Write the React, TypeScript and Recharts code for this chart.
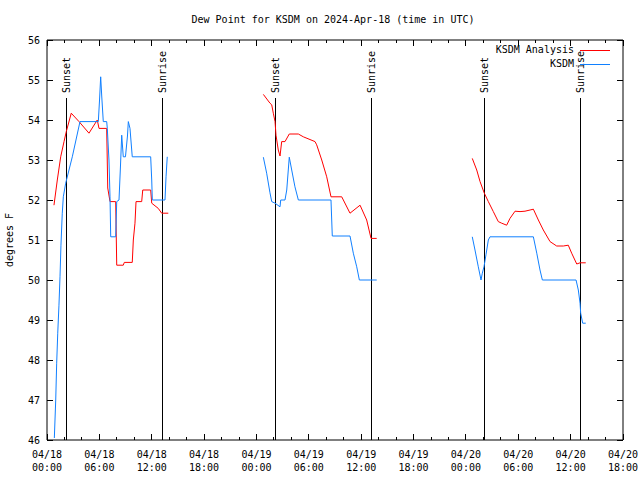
import React from "react";
import { LineChart, Line, XAxis, YAxis, ReferenceLine, Legend } from "recharts";

const FONT = "'DejaVu Sans Mono', 'Liberation Mono', monospace";

// hours since 2024-04-18 00:00 UTC, dew point (F)
const analysisDay1: [number, number][] = [
  [0.8, 51.87], [1.18, 52.5], [1.57, 53.08], [1.95, 53.46], [2.21, 53.71], [2.78, 54.17],
  [3.67, 53.96], [4.81, 53.67], [5.76, 54.0], [5.96, 53.79], [6.84, 53.79], [6.96, 52.3],
  [7.22, 51.96], [7.87, 51.96], [7.99, 50.37], [8.74, 50.37], [8.86, 50.44], [9.77, 50.44],
  [9.89, 51.0], [10.08, 51.42], [10.2, 51.96], [10.85, 51.96], [10.97, 52.25], [11.88, 52.25],
  [12.0, 51.92], [12.75, 51.79], [13.14, 51.67], [13.9, 51.67],
];
const analysisDay2: [number, number][] = [
  [24.79, 54.64], [25.55, 54.42], [25.75, 54.38], [25.93, 54.17], [26.13, 53.96], [26.24, 53.62],
  [26.5, 53.25], [26.7, 53.1], [26.89, 53.46], [27.27, 53.46], [27.76, 53.65], [28.8, 53.65],
  [29.37, 53.58], [30.71, 53.46], [30.9, 53.38], [31.48, 53.0], [32.05, 52.58], [32.54, 52.08],
  [33.77, 52.08], [34.72, 51.67], [35.87, 51.87], [36.63, 51.5], [37.13, 51.04], [37.78, 51.04],
];
const analysisDay3: [number, number][] = [
  [48.73, 53.04], [49.24, 52.75], [49.62, 52.46], [50.11, 52.17], [50.57, 51.96], [51.14, 51.71],
  [51.71, 51.46], [52.1, 51.42], [52.67, 51.37], [53.05, 51.54], [53.63, 51.72], [54.2, 51.71],
  [54.77, 51.72], [55.35, 51.75], [55.73, 51.77], [56.3, 51.5], [56.87, 51.25], [57.64, 50.96],
  [58.4, 50.85], [59.16, 50.85], [59.73, 50.87], [60.12, 50.67], [60.7, 50.4], [61.08, 50.43],
  [61.73, 50.43],
];

const obsDay1: [number, number][] = [
  [0.84, 46.05], [1.0, 47.0], [1.11, 47.92], [1.23, 48.67], [1.37, 49.37], [1.49, 50.08],
  [1.6, 50.87], [1.75, 51.67], [1.87, 52.08], [2.14, 52.42], [2.9, 53.08], [3.78, 53.96],
  [5.88, 53.96], [6.02, 54.5], [6.15, 55.08], [6.27, 54.6], [6.45, 53.96], [6.84, 53.96],
  [6.91, 53.79], [7.1, 53.0], [7.22, 52.08], [7.3, 51.08], [7.87, 51.08], [7.99, 51.96],
  [8.25, 52.0], [8.42, 52.85], [8.56, 53.62], [8.74, 53.08], [8.99, 53.08], [9.22, 53.6],
  [9.32, 53.96], [9.51, 53.79], [9.77, 53.08], [11.88, 53.08], [12.0, 52.5], [12.07, 52.0],
  [13.52, 52.0], [13.64, 52.58], [13.78, 53.08],
];
const obsDay2: [number, number][] = [
  [24.79, 53.07], [25.17, 52.67], [25.55, 52.18], [25.75, 51.96], [26.13, 51.92], [26.7, 51.83],
  [26.78, 52.0], [27.27, 52.0], [27.47, 52.25], [27.76, 53.07], [28.04, 52.75], [28.41, 52.33],
  [28.8, 52.0], [32.54, 52.0], [32.69, 51.1], [34.72, 51.1], [35.1, 50.67], [35.49, 50.33],
  [35.79, 50.0], [37.78, 50.0],
];
const obsDay3: [number, number][] = [
  [48.73, 51.08], [49.04, 50.75], [49.42, 50.33], [49.73, 50.0], [49.88, 50.17], [50.07, 50.33],
  [50.3, 50.63], [50.57, 51.0], [50.76, 51.08], [55.73, 51.08], [56.12, 50.67], [56.49, 50.25],
  [56.76, 50.0], [60.62, 50.0], [60.88, 49.75], [61.08, 49.42], [61.15, 49.17], [61.38, 48.92],
  [61.73, 48.92],
];

const seriesNames = ["KSDM Analysis", "KSDM"];
const seriesColors = ["#ff0000", "#1080ff"];

const xTickHours = Array.from({ length: 34 }, (_, i) => i * 2);
const xMajorHours = [0, 6, 12, 18, 24, 30, 36, 42, 48, 54, 60, 66];
const xTickLabels: [string, string][] = [
  ["04/18", "00:00"], ["04/18", "06:00"], ["04/18", "12:00"], ["04/18", "18:00"],
  ["04/19", "00:00"], ["04/19", "06:00"], ["04/19", "12:00"], ["04/19", "18:00"],
  ["04/20", "00:00"], ["04/20", "06:00"], ["04/20", "12:00"], ["04/20", "18:00"],
];
const yTicks = [46, 47, 48, 49, 50, 51, 52, 53, 54, 55, 56];

const eventHours = [2.18, 13.26, 26.16, 37.13, 50.11, 61.11];
const eventLabels = ["Sunset", "Sunrise", "Sunset", "Sunrise", "Sunset", "Sunrise"];
const eventTop = 54.55;

function joinSegments(...segs: [number, number][][]) {
  const out: { h: number; v: number | null }[] = [];
  segs.forEach((s, i) => {
    if (i > 0) out.push({ h: (segs[i - 1][segs[i - 1].length - 1][0] + s[0][0]) / 2, v: null });
    s.forEach(([h, v]) => out.push({ h, v }));
  });
  return out;
}

const analysisData = joinSegments(analysisDay1, analysisDay2, analysisDay3);
const obsData = joinSegments(obsDay1, obsDay2, obsDay3);

const BottomTick = (props: any) => {
  const { x, y, payload } = props;
  const idx = xMajorHours.indexOf(payload.value);
  const len = idx >= 0 ? 6 : 3;
  return (
    <g>
      <line x1={x} y1={y} x2={x} y2={y - len} stroke="#000" shapeRendering="crispEdges" />
      {idx >= 0 && (
        <text x={x} y={y} textAnchor="middle" fontFamily={FONT} fontSize={10} fill="#000">
          <tspan x={x} dy={18}>{xTickLabels[idx][0]}</tspan>
          <tspan x={x} dy={13}>{xTickLabels[idx][1]}</tspan>
        </text>
      )}
    </g>
  );
};

const TopTick = (props: any) => {
  const { x, y, payload } = props;
  const len = xMajorHours.indexOf(payload.value) >= 0 ? 6 : 3;
  return <line x1={x} y1={y} x2={x} y2={y + len} stroke="#000" shapeRendering="crispEdges" />;
};

const LeftTick = (props: any) => {
  const { x, y, payload } = props;
  return (
    <g>
      <line x1={x} y1={y} x2={x + 6} y2={y} stroke="#000" shapeRendering="crispEdges" />
      <text x={x - 7} y={y} dy={4} textAnchor="end" fontFamily={FONT} fontSize={10} fill="#000">
        {payload.value}
      </text>
    </g>
  );
};

const RightTick = (props: any) => {
  const { x, y } = props;
  return <line x1={x - 6} y1={y} x2={x} y2={y} stroke="#000" shapeRendering="crispEdges" />;
};

const renderLegend = () => (
  <div style={{ fontFamily: FONT, fontSize: 10, color: "#000" }}>
    {seriesNames.map((n, i) => (
      <div key={n} style={{ display: "flex", justifyContent: "flex-end", alignItems: "center", height: 14 }}>
        <span style={{ lineHeight: "14px" }}>{n}</span>
        <svg width={36} height={14} style={{ display: "block" }}>
          <line x1={6} y1={7.5} x2={36} y2={7.5} stroke={seriesColors[i]} strokeWidth={1} shapeRendering="crispEdges" />
        </svg>
      </div>
    ))}
  </div>
);

export default function App() {
  return (
    <div style={{ position: "absolute", left: 0, top: 0, width: 640, height: 480, background: "#fff" }}>
      <LineChart width={640} height={480} margin={{ top: 0, right: 0, bottom: 0, left: 0 }}>
        <XAxis xAxisId="b" dataKey="h" type="number" domain={[0, 66]} ticks={xTickHours} interval={0}
          orientation="bottom" height={40} tickSize={0} tickMargin={0} tickLine={false}
          tick={BottomTick} axisLine={{ stroke: "#000" }} allowDataOverflow />
        <XAxis xAxisId="t" dataKey="h" type="number" domain={[0, 66]} ticks={xTickHours} interval={0}
          orientation="top" height={40} tickSize={0} tickMargin={0} tickLine={false}
          tick={TopTick} axisLine={{ stroke: "#000" }} allowDataOverflow />
        <YAxis yAxisId="l" type="number" domain={[46, 56]} ticks={yTicks} interval={0} width={47}
          orientation="left" tickSize={0} tickMargin={0} tickLine={false} tick={LeftTick}
          axisLine={{ stroke: "#000" }} allowDataOverflow />
        <YAxis yAxisId="r" type="number" domain={[46, 56]} ticks={yTicks} interval={0} width={17}
          orientation="right" tickSize={0} tickMargin={0} tickLine={false} tick={RightTick}
          axisLine={{ stroke: "#000" }} allowDataOverflow />
        {eventHours.map((h, i) => (
          <ReferenceLine key={i} xAxisId="b" yAxisId="l"
            segment={[{ x: h, y: eventTop }, { x: h, y: 46 }]}
            stroke="#000" strokeWidth={1}
            shape={(p: any) => (
              <g>
                <line x1={p.x1} y1={p.y1} x2={p.x2} y2={p.y2} stroke="#000" strokeWidth={1} shapeRendering="crispEdges" />
                <text x={p.x1} y={Math.min(p.y1, p.y2) - 5} transform={`rotate(-90 ${p.x1} ${Math.min(p.y1, p.y2) - 5})`}
                  textAnchor="start" dominantBaseline="central" fontFamily={FONT} fontSize={10} fill="#000">
                  {eventLabels[i]}
                </text>
              </g>
            )}
          />
        ))}
        <Line xAxisId="b" yAxisId="l" data={analysisData} dataKey="v" name={seriesNames[0]}
          stroke={seriesColors[0]} strokeWidth={1} dot={false} isAnimationActive={false} connectNulls={false} />
        <Line xAxisId="b" yAxisId="l" data={obsData} dataKey="v" name={seriesNames[1]}
          stroke={seriesColors[1]} strokeWidth={1} dot={false} isAnimationActive={false} connectNulls={false} />
        <Legend layout="vertical" align="center" verticalAlign="middle" content={renderLegend}
          wrapperStyle={{ top: 43, left: 410, width: 200, height: 28 }} />
      </LineChart>
      <svg width={640} height={480} style={{ position: "absolute", left: 0, top: 0, pointerEvents: "none" }}>
        <text x={333} y={23} textAnchor="middle" fontFamily={FONT} fontSize={10} fill="#000">
          Dew Point for KSDM on 2024-Apr-18 (time in UTC)
        </text>
        <text x={13} y={240} transform="rotate(-90 13 240)" textAnchor="middle" fontFamily={FONT} fontSize={10} fill="#000">
          degrees F
        </text>
      </svg>
    </div>
  );
}
